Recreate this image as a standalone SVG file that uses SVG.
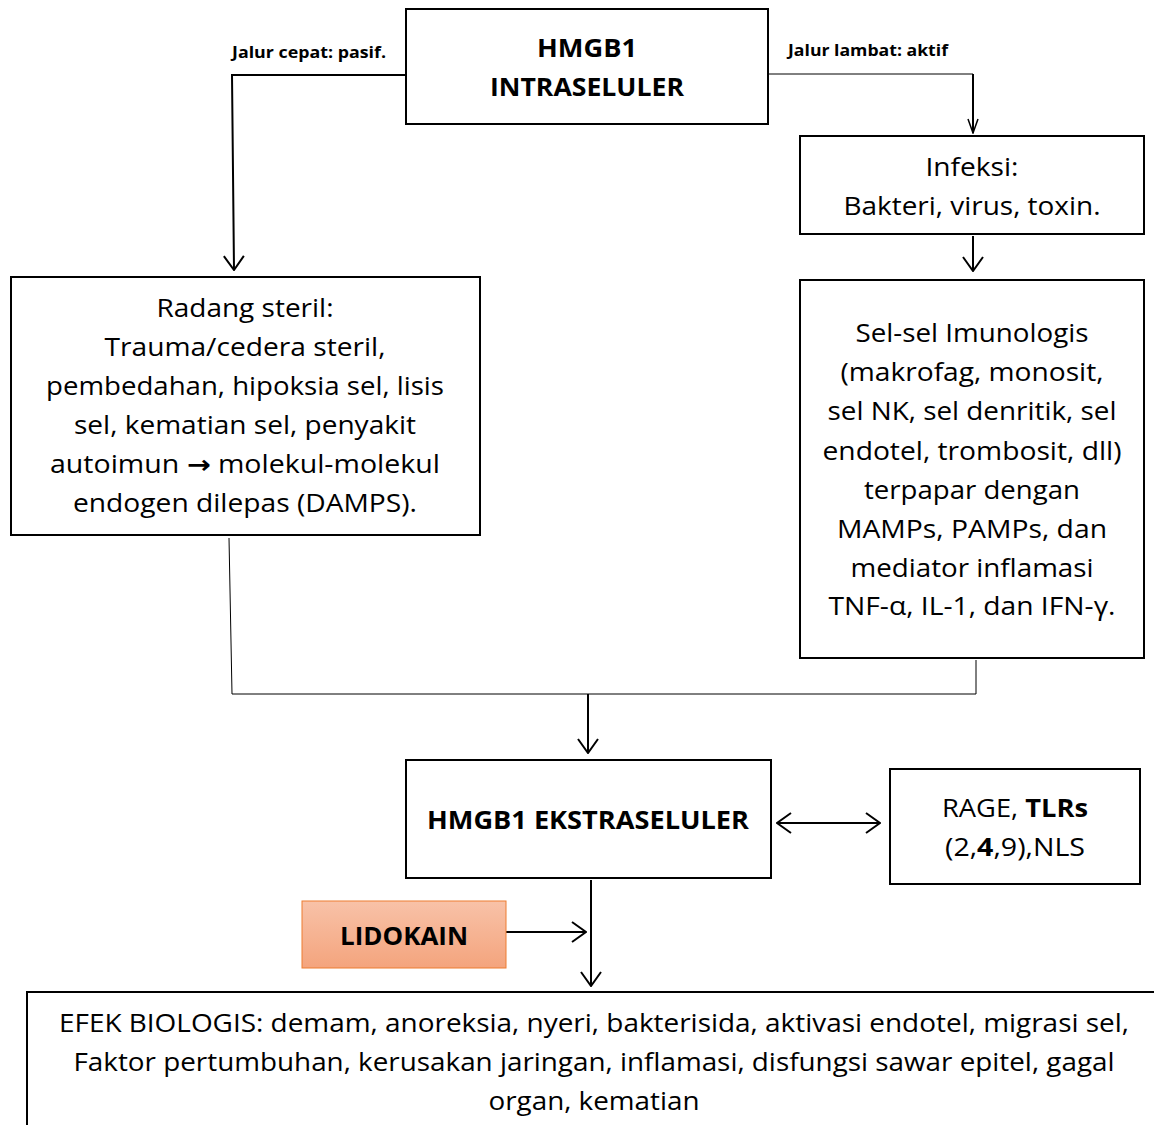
<svg xmlns="http://www.w3.org/2000/svg" width="1154" height="1125" viewBox="0 0 1154 1125">
<defs>
<style>
.box{fill:#fff;stroke:#000;stroke-width:2}
.t{font-family:"Open Sans","Noto Sans","Liberation Sans",sans-serif;font-size:25px;fill:#000;text-anchor:middle}
.b{font-weight:bold}
.arr{font-family:"DejaVu Sans",sans-serif;font-weight:bold}
.s{font-size:16px;font-weight:bold;text-anchor:start}
.ln{fill:none;stroke:#000;stroke-width:2}
.thin{fill:none;stroke:#000;stroke-width:1}
</style>
<marker id="ah" viewBox="0 0 16 22" refX="15" refY="11" markerWidth="16" markerHeight="22" markerUnits="userSpaceOnUse" orient="auto-start-reverse">
<path d="M1,1 L15,11 L1,21" fill="none" stroke="#000" stroke-width="2"/>
</marker>
<marker id="ahs" viewBox="0 0 16 12" refX="15" refY="6" markerWidth="16" markerHeight="12" markerUnits="userSpaceOnUse" orient="auto">
<path d="M1,1 L15,6 L1,11" fill="none" stroke="#000" stroke-width="1.5"/>
</marker>
<linearGradient id="og" x1="0" y1="0" x2="0" y2="1">
<stop offset="0" stop-color="#f8c2a8"/>
<stop offset="1" stop-color="#f4a47d"/>
</linearGradient>
</defs>

<g id="connectors">
<path class="ln" d="M406,75 H232 L234,270" marker-end="url(#ah)"/>
<path class="thin" d="M768,74 H973"/>
<path class="ln" d="M973,74 V133" marker-end="url(#ahs)"/>
<path class="ln" d="M973,236 V271" marker-end="url(#ah)"/>
<path class="thin" d="M229,538 L232,694 H976 V660"/>
<path class="ln" d="M588,694 V753" marker-end="url(#ah)"/>
<path class="ln" d="M777,823 H880" marker-start="url(#ah)" marker-end="url(#ah)"/>
<path class="ln" d="M591,880 V986" marker-end="url(#ah)"/>
<path class="ln" d="M506,932 H586" marker-end="url(#ah)"/>
<text class="t s" x="232" y="58" textLength="154" lengthAdjust="spacingAndGlyphs">Jalur cepat: pasif.</text>
<text class="t s" x="788" y="56" textLength="160" lengthAdjust="spacingAndGlyphs">Jalur lambat: aktif</text>
</g>

<g id="hmgb1-intra">
<rect class="box" x="406" y="9" width="362" height="115"/>
<text class="t b" x="587" y="57" textLength="100" lengthAdjust="spacingAndGlyphs">HMGB1</text>
<text class="t b" x="587" y="96" textLength="194" lengthAdjust="spacingAndGlyphs">INTRASELULER</text>
</g>

<g id="infeksi">
<rect class="box" x="800" y="136" width="344" height="98"/>
<text class="t" x="972" y="176" textLength="93" lengthAdjust="spacingAndGlyphs">Infeksi:</text>
<text class="t" x="972" y="215" textLength="257" lengthAdjust="spacingAndGlyphs">Bakteri, virus, toxin.</text>
</g>

<g id="radang">
<rect class="box" x="11" y="277" width="469" height="258"/>
<text class="t" x="245" y="317" textLength="177" lengthAdjust="spacingAndGlyphs">Radang steril:</text>
<text class="t" x="245" y="356" textLength="281" lengthAdjust="spacingAndGlyphs">Trauma/cedera steril,</text>
<text class="t" x="245" y="395" textLength="398" lengthAdjust="spacingAndGlyphs">pembedahan, hipoksia sel, lisis</text>
<text class="t" x="245" y="434" textLength="342" lengthAdjust="spacingAndGlyphs">sel, kematian sel, penyakit</text>
<text class="t" x="245" y="473" textLength="390" lengthAdjust="spacingAndGlyphs">autoimun <tspan class="arr">→</tspan> molekul-molekul</text>
<text class="t" x="245" y="512" textLength="344" lengthAdjust="spacingAndGlyphs">endogen dilepas (DAMPS).</text>
</g>

<g id="sel-imunologis">
<rect class="box" x="800" y="280" width="344" height="378"/>
<text class="t" x="972" y="342" textLength="233" lengthAdjust="spacingAndGlyphs">Sel-sel Imunologis</text>
<text class="t" x="972" y="381" textLength="263" lengthAdjust="spacingAndGlyphs">(makrofag, monosit,</text>
<text class="t" x="972" y="420" textLength="289" lengthAdjust="spacingAndGlyphs">sel NK, sel denritik, sel</text>
<text class="t" x="972" y="460" textLength="299" lengthAdjust="spacingAndGlyphs">endotel, trombosit, dll)</text>
<text class="t" x="972" y="499" textLength="216" lengthAdjust="spacingAndGlyphs">terpapar dengan</text>
<text class="t" x="972" y="538" textLength="270" lengthAdjust="spacingAndGlyphs">MAMPs, PAMPs, dan</text>
<text class="t" x="972" y="577" textLength="243" lengthAdjust="spacingAndGlyphs">mediator inflamasi</text>
<text class="t" x="972" y="615" textLength="287" lengthAdjust="spacingAndGlyphs">TNF-α, IL-1, dan IFN-γ.</text>
</g>

<g id="hmgb1-ekstra">
<rect class="box" x="406" y="760" width="365" height="118"/>
<text class="t b" x="588" y="829" textLength="322" lengthAdjust="spacingAndGlyphs">HMGB1 EKSTRASELULER</text>
</g>

<g id="rage">
<rect class="box" x="890" y="769" width="250" height="115"/>
<text class="t" x="1015" y="817" textLength="146" lengthAdjust="spacingAndGlyphs">RAGE, <tspan class="b">TLRs</tspan></text>
<text class="t" x="1015" y="856" textLength="140" lengthAdjust="spacingAndGlyphs">(2,<tspan class="b">4</tspan>,9),NLS</text>
</g>

<g id="lidokain">
<rect x="302" y="901" width="204" height="67" fill="url(#og)" stroke="#ed7d31" stroke-width="1"/>
<text class="t b" x="404" y="945" textLength="128" lengthAdjust="spacingAndGlyphs">LIDOKAIN</text>
</g>

<g id="efek-biologis">
<rect class="box" x="27" y="992" width="1140" height="150"/>
<text class="t" x="594" y="1032" textLength="1070" lengthAdjust="spacingAndGlyphs">EFEK BIOLOGIS: demam, anoreksia, nyeri, bakterisida, aktivasi endotel, migrasi sel,</text>
<text class="t" x="594" y="1071" textLength="1041" lengthAdjust="spacingAndGlyphs">Faktor pertumbuhan, kerusakan jaringan, inflamasi, disfungsi sawar epitel, gagal</text>
<text class="t" x="594" y="1110" textLength="211" lengthAdjust="spacingAndGlyphs">organ, kematian</text>
</g>
</svg>
